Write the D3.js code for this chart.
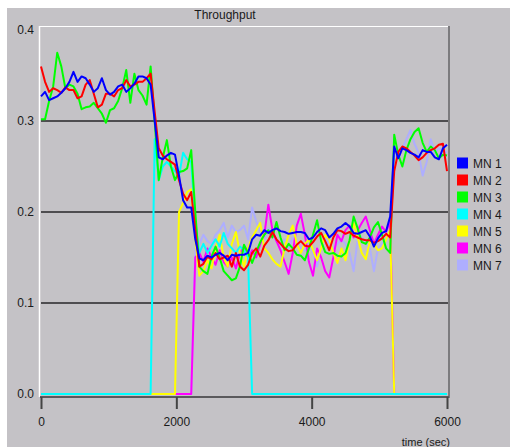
<!DOCTYPE html>
<html>
<head>
<meta charset="utf-8">
<script src="https://d3js.org/d3.v7.min.js"></script>
<style>
  body { margin: 0; background: #fff; }
  svg text { font-family: 'Liberation Sans', Arial, sans-serif; fill: #1a1a1a; }
  .axis text { font-size: 12px; }
  .legend text { font-size: 12px; }
</style>
</head>
<body>
<script>
// sample times (sec), one sample every 60 s
var times = d3.range(0, 6001, 60);

var seriesNames = ["MN 1", "MN 2", "MN 3", "MN 4", "MN 5", "MN 6", "MN 7"];
var seriesColors = ["#0000ff", "#ff0000", "#00ff00", "#00ffff", "#ffff00", "#ff00ff", "#aeaeff"];

var mn1 = [
  0.327,0.332,0.323,0.325,0.327,0.331,0.336,0.343,0.354,0.343,
  0.349,0.347,0.340,0.332,0.336,0.347,0.334,0.329,0.332,0.338,
  0.340,0.332,0.336,0.341,0.349,0.349,0.347,0.340,0.300,0.260,
  0.258,0.262,0.265,0.263,0.240,0.213,0.205,0.205,0.170,0.149,
  0.147,0.152,0.150,0.153,0.155,0.152,0.147,0.153,0.152,0.153,
  0.153,0.155,0.170,0.175,0.174,0.180,0.177,0.180,0.182,0.179,
  0.178,0.176,0.177,0.178,0.178,0.177,0.170,0.172,0.178,0.182,
  0.180,0.172,0.176,0.182,0.184,0.188,0.184,0.177,0.176,0.178,
  0.180,0.173,0.162,0.171,0.177,0.179,0.195,0.272,0.259,0.270,
  0.268,0.265,0.263,0.260,0.268,0.266,0.266,0.260,0.258,0.270,
  0.274];
var mn2 = [
  0.360,0.343,0.332,0.336,0.334,0.331,0.337,0.334,0.334,0.325,
  0.327,0.340,0.345,0.330,0.315,0.318,0.330,0.330,0.327,0.334,
  0.336,0.345,0.338,0.340,0.343,0.343,0.347,0.352,0.310,0.270,
  0.262,0.258,0.255,0.252,0.235,0.220,0.213,0.222,0.180,0.140,
  0.143,0.151,0.148,0.155,0.148,0.150,0.152,0.140,0.155,0.140,
  0.136,0.142,0.155,0.160,0.151,0.163,0.169,0.178,0.170,0.165,
  0.160,0.157,0.158,0.164,0.168,0.163,0.162,0.167,0.173,0.177,
  0.168,0.158,0.172,0.180,0.179,0.176,0.178,0.174,0.172,0.170,
  0.169,0.169,0.166,0.168,0.171,0.176,0.172,0.245,0.266,0.272,
  0.270,0.266,0.262,0.257,0.260,0.265,0.268,0.270,0.274,0.275,
  0.245];
var mn3 = [
  0.302,0.302,0.322,0.338,0.375,0.360,0.336,0.340,0.338,0.330,
  0.313,0.315,0.316,0.320,0.314,0.308,0.298,0.312,0.314,0.322,
  0.336,0.356,0.320,0.352,0.334,0.328,0.318,0.360,0.300,0.235,
  0.260,0.279,0.250,0.235,0.244,0.245,0.248,0.268,0.200,0.140,
  0.135,0.132,0.151,0.162,0.150,0.135,0.130,0.125,0.127,0.140,
  0.164,0.155,0.144,0.156,0.167,0.175,0.180,0.172,0.189,0.172,
  0.158,0.165,0.160,0.153,0.152,0.147,0.160,0.175,0.191,0.168,
  0.156,0.154,0.155,0.152,0.151,0.155,0.169,0.195,0.182,0.167,
  0.165,0.172,0.183,0.189,0.175,0.160,0.155,0.285,0.263,0.250,
  0.268,0.280,0.288,0.292,0.276,0.266,0.272,0.268,0.259,0.263,
  0.262];
var mn4 = [
  0,0,0,0,0,0,0,0,0,0,
  0,0,0,0,0,0,0,0,0,0,
  0,0,0,0,0,0,0,0,0.280,0.235,
  0.250,0.255,0.250,0.245,0.240,0.265,0.258,0.255,0.190,0.155,
  0.165,0.155,0.163,0.170,0.162,0.177,0.165,0.160,0.155,0.162,
  0.158,0.150,0,0,0,0,0,0,0,0,
  0,0,0,0,0,0,0,0,0,0,
  0,0,0,0,0,0,0,0,0,0,
  0,0,0,0,0,0,0,0,0,0,
  0,0,0,0,0,0,0,0,0,0,
  0];
var mn5 = [
  0,0,0,0,0,0,0,0,0,0,
  0,0,0,0,0,0,0,0,0,0,
  0,0,0,0,0,0,0,0,0,0,
  0,0,0,0,0.200,0.210,0.222,0.225,0.170,0.130,
  0.135,0.147,0.138,0.160,0.175,0.150,0.140,0.165,0.178,0.155,
  0.140,0.160,0.172,0.180,0.188,0.160,0.155,0.148,0.143,0.140,
  0.160,0.175,0.185,0.165,0.155,0.165,0.170,0.158,0.147,0.160,
  0.175,0.170,0.155,0.144,0.160,0.147,0.168,0.188,0.172,0.155,
  0.148,0.168,0.165,0.158,0.160,0.170,0.180,0,0,0,
  0,0,0,0,0,0,0,0,0,0,
  0];
var mn6 = [
  0,0,0,0,0,0,0,0,0,0,
  0,0,0,0,0,0,0,0,0,0,
  0,0,0,0,0,0,0,0,0,0,
  0,0,0,0,0,0,0,0,0.150,0.155,
  0.145,0.160,0.150,0.142,0.158,0.145,0.140,0.150,0.138,0.155,
  0.162,0.148,0.158,0.150,0.165,0.175,0.208,0.180,0.168,0.158,
  0.145,0.132,0.155,0.185,0.198,0.175,0.145,0.130,0.160,0.150,
  0.135,0.128,0.150,0.175,0.168,0.180,0.185,0.172,0.180,0.188,
  0.195,0.180,0.165,0.175,0.184,0.178,0.190,0,0,0,
  0,0,0,0,0,0,0,0,0,0,
  0];
var mn7 = [
  0,0,0,0,0,0,0,0,0,0,
  0,0,0,0,0,0,0,0,0,0,
  0,0,0,0,0,0,0,0,0,0,
  0,0,0,0,0,0,0,0,0.160,0.165,
  0.175,0.168,0.165,0.175,0.180,0.188,0.172,0.185,0.178,0.180,
  0.185,0.170,0.205,0.190,0.178,0.170,0.182,0.175,0.168,0.165,
  0.170,0.160,0.172,0.168,0.160,0.158,0.165,0.155,0.140,0.160,
  0.170,0.165,0.160,0.165,0.170,0.165,0.155,0.135,0.170,0.172,
  0.165,0.160,0.135,0.160,0.165,0.170,0.175,0.260,0.265,0.270,
  0.280,0.290,0.275,0.265,0.240,0.255,0.280,0.265,0.270,0.268,
  0.265];

var xTicks = [0, 2000, 4000, 6000];
var yTicks = [0, 0.1, 0.2, 0.3, 0.4];
var gridValues = [0.1, 0.2, 0.3];

var allSeries = [mn1, mn2, mn3, mn4, mn5, mn6, mn7];

var svg = d3.select("body").append("svg")
    .attr("width", 510)
    .attr("height", 447);

// grey panel
svg.append("rect")
    .attr("x", 7).attr("y", 8)
    .attr("width", 503).attr("height", 439)
    .attr("fill", "#c4c2c6");

var x = d3.scaleLinear().domain([0, 6000]).range([41, 447]);
var y = d3.scaleLinear().domain([0, 0.4]).range([394, 30]);

// plot frame
svg.append("line").attr("x1", 40).attr("x2", 449).attr("y1", 26.5).attr("y2", 26.5)
    .attr("stroke", "#fff").attr("stroke-width", 1);
svg.append("line").attr("x1", 39.5).attr("x2", 39.5).attr("y1", 26).attr("y2", 397)
    .attr("stroke", "#fff").attr("stroke-width", 1.5);
svg.append("line").attr("x1", 449).attr("x2", 449).attr("y1", 26).attr("y2", 398)
    .attr("stroke", "#7c7b7e").attr("stroke-width", 2);

// grid lines
svg.selectAll(".grid")
    .data(gridValues)
    .enter().append("line")
    .attr("class", "grid")
    .attr("x1", 41).attr("x2", 448)
    .attr("y1", function(d) { return y(d); })
    .attr("y2", function(d) { return y(d); })
    .attr("stroke", "#4e4d50")
    .attr("stroke-width", 2);

// x axis
var xAxis = svg.append("g")
    .attr("class", "axis")
    .attr("transform", "translate(0,397)")
    .call(d3.axisBottom(x).tickValues(xTicks).tickSize(12).tickPadding(8).tickFormat(d3.format("d")));
xAxis.select(".domain").attr("stroke", "#5a595c").attr("stroke-width", 2).attr("d", "M40,0H449");
xAxis.selectAll(".tick line").attr("stroke", "#444").attr("stroke-width", 2);
xAxis.selectAll(".tick text").attr("fill", "#1a1a1a");

// y axis
var yAxis = svg.append("g")
    .attr("class", "axis")
    .attr("transform", "translate(40,0)")
    .call(d3.axisLeft(y).tickValues(yTicks).tickSize(0).tickPadding(6).tickFormat(d3.format(".1f")));
yAxis.select(".domain").remove();
yAxis.selectAll(".tick text").attr("fill", "#1a1a1a");

// data lines, MN 7 at the bottom and MN 1 on top
var line = d3.line()
    .x(function(d, i) { return x(times[i]); })
    .y(function(d) { return y(d); });

for (var k = allSeries.length - 1; k >= 0; k--) {
    svg.append("path")
        .datum(allSeries[k])
        .attr("fill", "none")
        .attr("stroke", seriesColors[k])
        .attr("stroke-width", 2)
        .attr("stroke-linejoin", "round")
        .attr("d", line);
}

// title
svg.append("text")
    .attr("x", 225).attr("y", 19)
    .attr("text-anchor", "middle")
    .style("font-size", "12px")
    .text("Throughput");

svg.append("text")
    .attr("x", 450).attr("y", 446)
    .attr("text-anchor", "end")
    .style("font-size", "11px")
    .text("time (sec)");

// legend
var legend = svg.selectAll(".legend")
    .data(seriesNames)
    .enter().append("g")
    .attr("class", "legend")
    .attr("transform", function(d, i) { return "translate(457," + (163 + i * 17) + ")"; });

legend.append("rect")
    .attr("x", 0).attr("y", -5.5)
    .attr("width", 11).attr("height", 11)
    .attr("fill", function(d, i) { return seriesColors[i]; });

legend.append("text")
    .attr("x", 16).attr("y", 4.5)
    .text(function(d) { return d; });
</script>
</body>
</html>
